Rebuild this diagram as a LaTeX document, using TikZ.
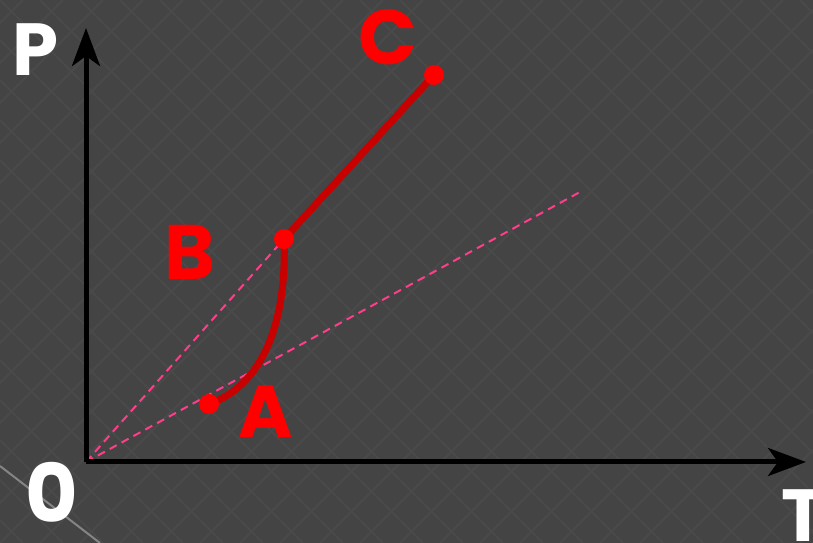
\documentclass[tikz,border=0pt]{standalone}
\usepackage{fontspec}
\setmainfont{Poppins}
\usetikzlibrary{arrows.meta}
\definecolor{bgrey}{HTML}{444444}
\definecolor{hatch}{HTML}{4A4A4A}
\definecolor{curvered}{HTML}{C80000}
\definecolor{dotred}{HTML}{FF0000}
\definecolor{guidepink}{HTML}{FF3D8A}
\begin{document}
\begin{tikzpicture}[
    x=0.1mm, y=-0.1mm,
    axis/.style={line width=0.5mm, black, -{Stealth[length=3.8mm, width=2.8mm, inset=1mm]}},
    process/.style={line width=0.7mm, curvered},
    guide/.style={line width=0.2mm, guidepink, dash pattern=on 0.8mm off 0.55mm},
    state/.style={circle, fill=dotred, inner sep=0pt, minimum size=2mm},
    axislabel/.style={white, font=\fontsize{21}{21}\selectfont\bfseries},
    statelabel/.style={dotred, font=\fontsize{21}{21}\selectfont\bfseries}
]

% Background
\clip (0,0) rectangle (813,543);
\fill[bgrey] (0,0) rectangle (813,543);
\foreach \k in {-560,-520,...,840} {
    \draw[hatch, line width=0.2mm] (\k,0) -- ++(543,543);
    \draw[hatch, line width=0.2mm] (\k+543,0) -- ++(-543,543);
}
\draw[white!35!bgrey, line width=0.2mm] (0,466) -- (100,543);

% Points
\coordinate (O) at (86,462);
\coordinate (Ptip) at (86,28);
\coordinate (Ttip) at (806,462);
\coordinate (A) at (209,404);
\coordinate (B) at (284,239);
\coordinate (C) at (434,75);
\coordinate (Aend) at (580,192);

% Guide lines
\draw[guide] (O) -- (B);
\draw[guide] (O) -- (Aend);

% Axes
\draw[axis] (O) -- (Ptip);
\draw[axis] (O) -- (Ttip);

% Process
\draw[process] (A) .. controls (264,385) and (287,320) .. (B);
\draw[process] (B) -- (C);

% States
\node[state] (sA) at (A) {};
\node[state] (sB) at (B) {};
\node[state] (sC) at (C) {};

% Labels
\node[axislabel] (lP) at (36,50) {P};
\node[axislabel] (lT) at (803,516) {T};
\node[axislabel, font=\fontsize{23}{23}\selectfont\bfseries] (lO) at (52,492) {0};
\node[statelabel] (lA) at (266,412) {A};
\node[statelabel, font=\fontsize{22}{22}\selectfont\bfseries] (lB) at (190,252) {B};
\node[statelabel, font=\fontsize{22}{22}\selectfont\bfseries] (lC) at (388,37) {C};

\end{tikzpicture}
\end{document}
